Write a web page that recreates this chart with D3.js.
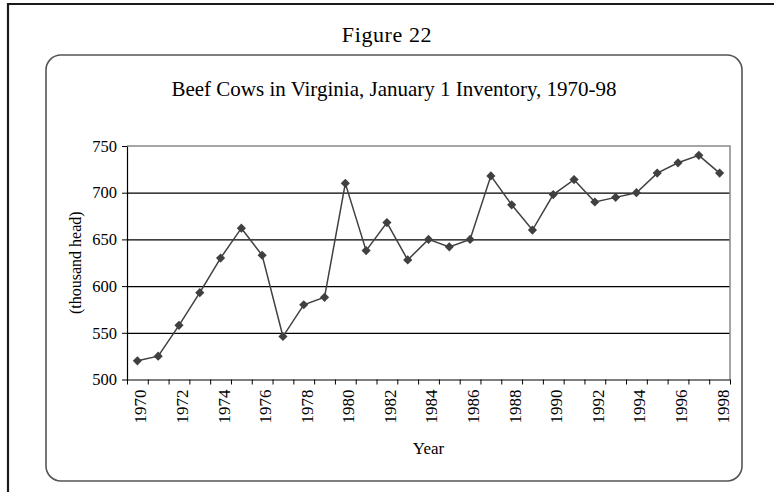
<!DOCTYPE html>
<html>
<head>
<meta charset="utf-8">
<script src="https://cdn.jsdelivr.net/npm/d3@7"></script>
<style>
  body { margin: 0; background: #fff; }
  svg text { font-family: "Liberation Serif", "Times New Roman", serif; fill: #000; }
</style>
</head>
<body>
<svg id="chart" width="774" height="492"></svg>
<script>
// data
var years = [1970,1971,1972,1973,1974,1975,1976,1977,1978,1979,1980,1981,1982,1983,1984,
             1985,1986,1987,1988,1989,1990,1991,1992,1993,1994,1995,1996,1997,1998];
var cows = [520,525,558,593,630,662,633,546,580,588,710,638,668,628,650,
            642,650,718,687,660,698,714,690,695,700,721,732,740,721];
var yTicks = [500,550,600,650,700,750];
var labelYears = years.filter(function(d){ return d % 2 == 0; });

var svg = d3.select("#chart");

// outer frame (top + left only)
svg.append("path")
  .attr("d", "M8,492 L8,4 L774,4")
  .attr("fill", "none")
  .attr("stroke", "#1a1a1a")
  .attr("stroke-width", 2.2);

svg.append("text")
  .attr("x", 387).attr("y", 42)
  .attr("text-anchor", "middle")
  .style("font-size", "22px")
  .style("letter-spacing", "0.6px")
  .text("Figure 22");

// rounded chart box
svg.append("rect")
  .attr("x", 46).attr("y", 55)
  .attr("width", 696).attr("height", 426)
  .attr("rx", 15).attr("ry", 15)
  .attr("fill", "none")
  .attr("stroke", "#555")
  .attr("stroke-width", 1.6);

svg.append("text")
  .attr("x", 394).attr("y", 96)
  .attr("text-anchor", "middle")
  .style("font-size", "21px")
  .text("Beef Cows in Virginia, January 1 Inventory, 1970-98");

var plotL = 127, plotR = 730, plotT = 146, plotB = 379.5;

var x = d3.scaleLinear().domain([1969.5, 1998.5]).range([plotL, plotR]);
var y = d3.scaleLinear().domain([500, 750]).range([plotB, plotT]);

// gridlines
svg.append("g")
  .attr("transform", "translate(" + plotL + ",0)")
  .call(d3.axisLeft(y).tickValues([550,600,650,700]).tickSize(-(plotR - plotL)).tickFormat(""))
  .call(function(g){ g.select(".domain").remove(); })
  .selectAll("line").attr("stroke", "#000").attr("stroke-width", 1.2);

// gray top and right border
svg.append("path")
  .attr("d", "M" + plotL + "," + plotT + " L" + plotR + "," + plotT + " L" + plotR + "," + plotB)
  .attr("fill", "none")
  .attr("stroke", "#888")
  .attr("stroke-width", 1.5);

// y axis
var yAxis = svg.append("g")
  .attr("transform", "translate(" + plotL + ",0)")
  .call(d3.axisLeft(y).tickValues(yTicks).tickSize(5).tickSizeOuter(0).tickPadding(5));
yAxis.select(".domain").attr("stroke", "#000").attr("stroke-width", 1.2);
yAxis.selectAll("line").attr("stroke", "#000");
yAxis.selectAll("text")
  .style("font-family", "Liberation Serif")
  .style("font-size", "16.5px")
  .attr("fill", "#000");

// x axis, ticks between the categories
var bounds = d3.range(years.length + 1).map(function(i){ return 1969.5 + i; });
var xAxis = svg.append("g")
  .attr("transform", "translate(0," + plotB + ")")
  .call(d3.axisBottom(x).tickValues(bounds).tickSize(5).tickSizeOuter(0).tickFormat(""));
xAxis.select(".domain").attr("stroke", "#000").attr("stroke-width", 1.2);
xAxis.selectAll("line").attr("stroke", "#000");

svg.append("g").selectAll("text")
  .data(labelYears)
  .enter()
  .append("text")
  .attr("transform", function(d){ return "translate(" + (x(d) + 3) + "," + (plotB + 10) + ") rotate(-90)"; })
  .attr("text-anchor", "end")
  .attr("dy", "0.35em")
  .style("font-size", "17px")
  .text(function(d){ return d; });

svg.append("text")
  .attr("x", (plotL + plotR) / 2).attr("y", 454)
  .attr("text-anchor", "middle")
  .style("font-size", "17px")
  .text("Year");

svg.append("text")
  .attr("transform", "translate(81," + ((plotT + plotB) / 2) + ") rotate(-90)")
  .attr("text-anchor", "middle")
  .style("font-size", "16px")
  .text("(thousand head)");

// line + diamonds
var line = d3.line()
  .x(function(d, i){ return x(years[i]); })
  .y(function(d){ return y(d); });

svg.append("path")
  .datum(cows)
  .attr("d", line)
  .attr("fill", "none")
  .attr("stroke", "#404040")
  .attr("stroke-width", 1.5);

svg.append("g").selectAll("path")
  .data(cows)
  .enter()
  .append("path")
  .attr("d", d3.symbol().type(d3.symbolSquare).size(42))
  .attr("transform", function(d, i){ return "translate(" + x(years[i]) + "," + y(d) + ") rotate(45)"; })
  .attr("fill", "#404040");
</script>
</body>
</html>
